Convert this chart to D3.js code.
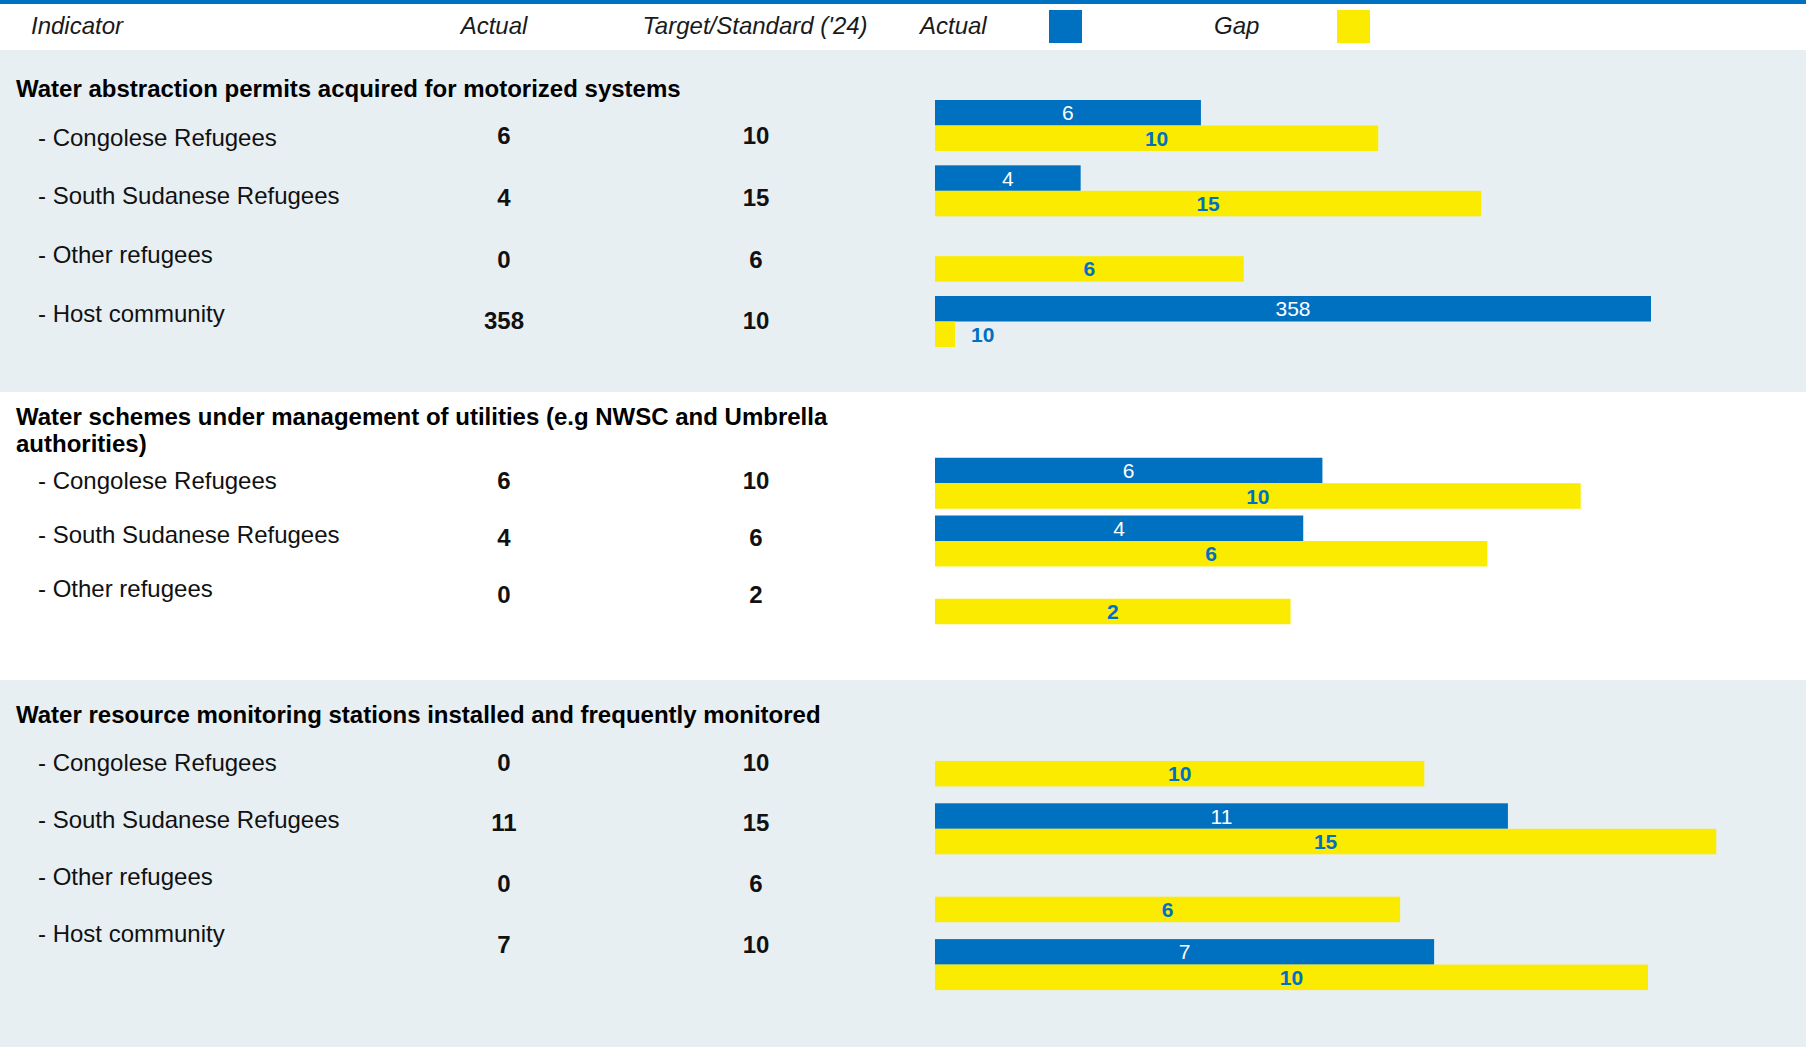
<!DOCTYPE html>
<html>
<head>
<meta charset="utf-8">
<script src="https://cdn.jsdelivr.net/npm/d3@7"></script>
<style>
  body { margin: 0; background: #fff; }
  svg text { font-family: "Liberation Sans", Arial, sans-serif; }
</style>
</head>
<body>
<div id="chart"></div>
<script>
// Data
var groupTitles = [
    ["Water abstraction permits acquired for motorized systems"],
    ["Water schemes under management of utilities (e.g NWSC and Umbrella", "authorities)"],
    ["Water resource monitoring stations installed and frequently monitored"]
];
var rowGroup = [0, 0, 0, 0, 1, 1, 1, 2, 2, 2, 2];
var rowLabels = [
    "- Congolese Refugees", "- South Sudanese Refugees", "- Other refugees", "- Host community",
    "- Congolese Refugees", "- South Sudanese Refugees", "- Other refugees",
    "- Congolese Refugees", "- South Sudanese Refugees", "- Other refugees", "- Host community"
];
var actualValues = [6, 4, 0, 358, 6, 4, 0, 0, 11, 0, 7];
var targetValues = [10, 15, 6, 10, 10, 6, 2, 10, 15, 6, 10];
// every row is its own little chart with its own axis maximum
var rowAxisMax = [18.05, 21.97, 15.55, 400, 12.39, 8.69, 4.5, 16.35, 15.36, 10.32, 11.22];
var headerLabels = ["Indicator", "Actual", "Target/Standard ('24)"];
var legendLabels = ["Actual", "Gap"];

// Layout
var svgWidth = 1806;
var svgHeight = 1047;
var blue = "#0070C0";
var yellow = "#FAEB00";
var band = "#E8EFF3";
var barH = 25.5;
var barX0 = 935, barX1 = 1735;

var groupLayout = [
    { top: 50,  bottom: 392,  fill: band,   titleY: 88,  labelY: [137, 313],   valueY: [135.2, 320.8], barY: [100, 296] },
    { top: 392, bottom: 680,  fill: "#fff", titleY: 416, labelY: [480.3, 587.9], valueY: [480.6, 594.8], barY: [457.75, 573.25] },
    { top: 680, bottom: 1047, fill: band,   titleY: 714, labelY: [762, 933], valueY: [762, 944], barY: [735.4, 939.1] }
];

var svg = d3.select("#chart")
    .append("svg")
    .attr("width", svgWidth)
    .attr("height", svgHeight);

// header
svg.append("rect").attr("x", 0).attr("y", 0).attr("width", svgWidth).attr("height", 4).attr("fill", blue);

var headerX = [31, 494, 755];
var headerAnchor = ["start", "middle", "middle"];
headerLabels.forEach(function(t, i) {
    svg.append("text")
        .attr("x", headerX[i])
        .attr("y", 25.5)
        .attr("dy", "0.36em")
        .attr("text-anchor", headerAnchor[i])
        .attr("font-size", "24px")
        .attr("font-style", "italic")
        .attr("fill", "#1a1a1a")
        .text(t);
});

var legendX = [920, 1214];
var legendColors = [blue, yellow];
var legendBoxX = [1049, 1337];
legendLabels.forEach(function(t, i) {
    svg.append("text")
        .attr("x", legendX[i])
        .attr("y", 25.5)
        .attr("dy", "0.36em")
        .attr("font-size", "24px")
        .attr("font-style", "italic")
        .attr("fill", "#1a1a1a")
        .text(t);
    svg.append("rect")
        .attr("x", legendBoxX[i])
        .attr("y", 10)
        .attr("width", 33)
        .attr("height", 33)
        .attr("fill", legendColors[i]);
});

// groups
groupLayout.forEach(function(lay, g) {
    svg.append("rect")
        .attr("x", 0)
        .attr("y", lay.top)
        .attr("width", svgWidth)
        .attr("height", lay.bottom - lay.top)
        .attr("fill", lay.fill);

    groupTitles[g].forEach(function(line, k) {
        svg.append("text")
            .attr("x", 16)
            .attr("y", lay.titleY + k * 27.5)
            .attr("dy", "0.36em")
            .attr("font-size", "24px")
            .attr("font-weight", "bold")
            .attr("fill", "#000")
            .text(line);
    });

    var rows = d3.range(rowGroup.length).filter(function(i) { return rowGroup[i] === g; });

    var yLabel = d3.scalePoint().domain(rows).range(lay.labelY);
    var yValue = d3.scalePoint().domain(rows).range(lay.valueY);
    var yBar = d3.scalePoint().domain(rows).range(lay.barY);

    var grp = svg.append("g");

    grp.selectAll(".rowLabel")
        .data(rows)
        .enter()
        .append("text")
        .attr("x", 38)
        .attr("y", function(i) { return yLabel(i); })
        .attr("dy", "0.36em")
        .attr("font-size", "24px")
        .attr("fill", "#111")
        .text(function(i) { return rowLabels[i]; });

    grp.selectAll(".actualVal")
        .data(rows)
        .enter()
        .append("text")
        .attr("x", 504)
        .attr("y", function(i) { return yValue(i); })
        .attr("dy", "0.36em")
        .attr("text-anchor", "middle")
        .attr("font-size", "24px")
        .attr("font-weight", "bold")
        .attr("fill", "#111")
        .text(function(i) { return actualValues[i]; });

    grp.selectAll(".targetVal")
        .data(rows)
        .enter()
        .append("text")
        .attr("x", 756)
        .attr("y", function(i) { return yValue(i); })
        .attr("dy", "0.36em")
        .attr("text-anchor", "middle")
        .attr("font-size", "24px")
        .attr("font-weight", "bold")
        .attr("fill", "#111")
        .text(function(i) { return targetValues[i]; });

    // one small bar chart per row
    rows.forEach(function(i) {
        var x = d3.scaleLinear()
            .domain([0, rowAxisMax[i]])
            .range([barX0, barX1]);
        var top = yBar(i);

        if (actualValues[i] > 0) {
            grp.append("rect")
                .attr("x", x(0))
                .attr("y", top)
                .attr("width", x(actualValues[i]) - x(0))
                .attr("height", barH)
                .attr("fill", blue);
            grp.append("text")
                .attr("x", (x(0) + x(actualValues[i])) / 2)
                .attr("y", top + barH / 2)
                .attr("dy", "0.36em")
                .attr("text-anchor", "middle")
                .attr("font-size", "21px")
                .attr("fill", "#fff")
                .text(actualValues[i]);
        }

        var w = x(targetValues[i]) - x(0);
        grp.append("rect")
            .attr("x", x(0))
            .attr("y", top + barH)
            .attr("width", w)
            .attr("height", barH)
            .attr("fill", yellow);
        var inside = w > 60;
        grp.append("text")
            .attr("x", inside ? (x(0) + x(targetValues[i])) / 2 : x(targetValues[i]) + 16)
            .attr("y", top + barH * 1.5)
            .attr("dy", "0.36em")
            .attr("text-anchor", inside ? "middle" : "start")
            .attr("font-size", "21px")
            .attr("font-weight", "bold")
            .attr("fill", blue)
            .text(targetValues[i]);
    });
});
</script>
</body>
</html>
